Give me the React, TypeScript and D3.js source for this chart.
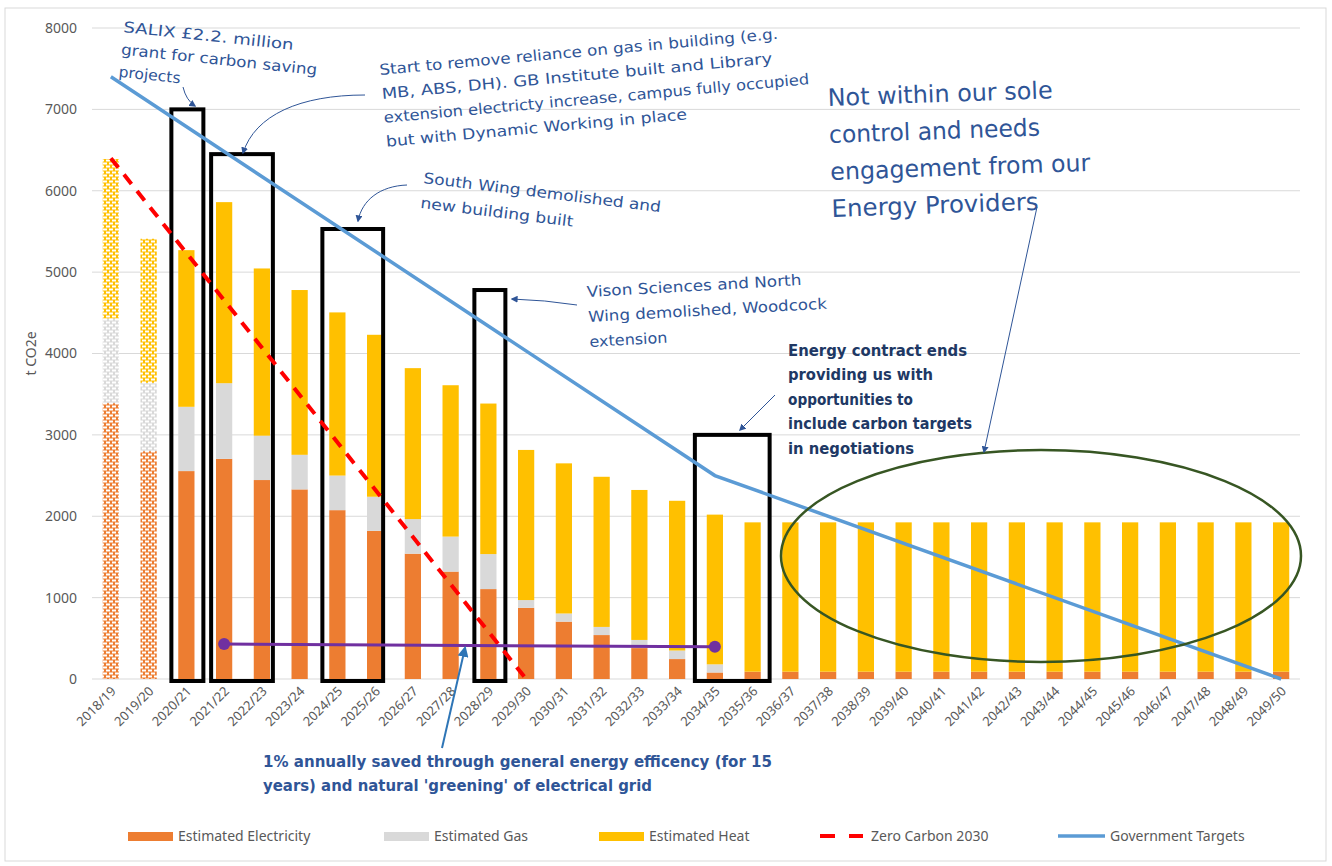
import React from "react";
import * as d3 from "d3";

const categories = [
  "2018/19", "2019/20", "2020/21", "2021/22", "2022/23", "2023/24", "2024/25", "2025/26",
  "2026/27", "2027/28", "2028/29", "2029/30", "2030/31", "2031/32", "2032/33", "2033/34",
  "2034/35", "2035/36", "2036/37", "2037/38", "2038/39", "2039/40", "2040/41", "2041/42",
  "2042/43", "2043/44", "2044/45", "2045/46", "2046/47", "2047/48", "2048/49", "2049/50",
];

// stacked segment values (t CO2e)
const electricity = [
  3390, 2800, 2555, 2705, 2445, 2330, 2075, 1820, 1540, 1320, 1105, 875, 705, 540, 380, 245,
  80, 90, 90, 90, 90, 90, 90, 90, 90, 90, 90, 90, 90, 90, 90, 90,
];
const gas = [
  1040, 840, 790, 930, 545, 425, 425, 420, 425, 430, 430, 95, 100, 100, 100, 105,
  100, 0, 0, 0, 0, 0, 0, 0, 0, 0, 0, 0, 0, 0, 0, 0,
];
const heat = [
  1960, 1770, 1925, 2225, 2055, 2025, 2005, 1990, 1855, 1860, 1850, 1845, 1845, 1845, 1843, 1840,
  1840, 1835, 1835, 1835, 1835, 1835, 1835, 1835, 1835, 1835, 1835, 1835, 1835, 1835, 1835, 1835,
];
// first two years are actuals (patterned bars)
const actualYears = ["2018/19", "2019/20"];

const zeroCarbon2030 = [
  { year: "2018/19", value: 6400 },
  { year: "2029/30", value: 0 },
];
const governmentTargets = [
  { year: "2018/19", value: 7400 },
  { year: "2034/35", value: 2500 },
  { year: "2049/50", value: 0 },
];
const efficiencySavings = [
  { year: "2021/22", value: 430 },
  { year: "2034/35", value: 395 },
];
const highlightBoxes = [
  { from: "2020/21", to: "2020/21", top: 7000 },
  { from: "2021/22", to: "2022/23", top: 6450 },
  { from: "2024/25", to: "2025/26", top: 5530 },
  { from: "2028/29", to: "2028/29", top: 4780 },
  { from: "2034/35", to: "2035/36", top: 3000 },
];
const yTicks = [0, 1000, 2000, 3000, 4000, 5000, 6000, 7000, 8000];

const seriesNames = ["Estimated Electricity", "Estimated Gas", "Estimated Heat"];
const colors = ["#ED7D31", "#D9D9D9", "#FFC000"];

const W = 1332;
const H = 866;
const plot = { left: 92, right: 1300, top: 28, bottom: 679 };

const x = d3
  .scaleBand<string>()
  .domain(categories)
  .range([plot.left, plot.right])
  .paddingInner(0.57)
  .paddingOuter(0.285);
const y = d3.scaleLinear().domain([0, 8000]).range([plot.bottom, plot.top]);
const cx = (c: string) => (x(c) as number) + x.bandwidth() / 2;

// hand-drawn boxes are not symmetric around the bars
const boxPads = [[15, 17], [13, 11], [15, 8], [14, 17], [20, 17]];

const HAND = "'DejaVu Sans', sans-serif";
const LABEL = "'Noto Sans', 'Open Sans', sans-serif";
const BLUE = "#2F5597";

type Line = { t: string; len: number };
function Note({
  tx, ty, rot, size, lines, gap, weight = 400, color = BLUE,
}: {
  tx: number; ty: number; rot: number; size: number; lines: Line[]; gap: number; weight?: number; color?: string;
}) {
  return (
    <g transform={`translate(${tx},${ty}) rotate(${rot})`}>
      {lines.map((l, i) => (
        <text
          key={i}
          x={0}
          y={i * gap}
          fontFamily={HAND}
          fontSize={size}
          fontWeight={weight}
          fill={color}
          textLength={l.len}
          lengthAdjust="spacingAndGlyphs"
        >
          {l.t}
        </text>
      ))}
    </g>
  );
}

export default function App() {
  const stack = d3
    .stack<number>()
    .keys(["0", "1", "2"])
    .value((i, k) => [electricity, gas, heat][+k][i]);
  const layers = stack(d3.range(categories.length));

  const lineGen = d3
    .line<{ year: string; value: number }>()
    .x((d) => cx(d.year))
    .y((d) => y(d.value));

  return (
    <div style={{ position: "absolute", left: 0, top: 0 }}>
      <svg width={W} height={H} style={{ display: "block", background: "#fff" }}>
        <defs>
          {colors.map((c, i) => (
            <pattern key={i} id={`pat${i}`} width={6} height={6} patternUnits="userSpaceOnUse">
              <rect width={6} height={6} fill={c} />
              <rect x={1} y={0.5} width={4} height={2} fill="#fff" />
              <rect x={-2} y={3.5} width={4} height={2} fill="#fff" />
              <rect x={4} y={3.5} width={4} height={2} fill="#fff" />
            </pattern>
          ))}
          <marker id="arr" viewBox="0 0 10 10" refX={8} refY={5} markerWidth={7} markerHeight={7} orient="auto-start-reverse" markerUnits="userSpaceOnUse">
            <path d="M0,0 L10,5 L0,10 z" fill={BLUE} />
          </marker>
          <marker id="arr2" viewBox="0 0 10 10" refX={8} refY={5} markerWidth={11} markerHeight={11} orient="auto" markerUnits="userSpaceOnUse">
            <path d="M0,0 L10,5 L0,10 z" fill="#2E75B6" />
          </marker>
        </defs>

        <rect x={5} y={8} width={1321} height={853} fill="none" stroke="#D9D9D9" />

        {/* gridlines */}
        {yTicks.map((t) => (
          <line key={t} x1={plot.left} x2={plot.right} y1={y(t)} y2={y(t)} stroke="#D9D9D9" strokeWidth={1} />
        ))}
        {yTicks.map((t) => (
          <text key={t} x={77} y={y(t)} dy="0.35em" textAnchor="end" fontFamily={LABEL} fontSize={14} fill="#595959">
            {t}
          </text>
        ))}
        <text transform={`translate(36,${y(4000)}) rotate(-90)`} textAnchor="middle" fontFamily={LABEL} fontSize={14} fill="#595959">
          t CO2e
        </text>

        {/* bars */}
        {layers.map((layer, li) =>
          layer.map((d, i) => {
            const cat = categories[i];
            const h = y(d[0]) - y(d[1]);
            if (h <= 0) return null;
            const fill = actualYears.includes(cat) ? `url(#pat${li})` : colors[li];
            return <rect key={`${li}-${i}`} x={x(cat)} y={y(d[1])} width={x.bandwidth()} height={h} fill={fill} />;
          })
        )}

        {/* x labels */}
        {categories.map((c) => (
          <text
            key={c}
            transform={`translate(${cx(c) + 6},${plot.bottom + 13}) rotate(-45)`}
            textAnchor="end"
            fontFamily={LABEL}
            fontSize={13}
            fill="#595959"
          >
            {c}
          </text>
        ))}

        {/* highlight boxes */}
        {highlightBoxes.map((b, i) => {
          const x0 = cx(b.from) - boxPads[i][0];
          const x1 = cx(b.to) + boxPads[i][1];
          return <rect key={i} x={x0} y={y(b.top)} width={x1 - x0} height={plot.bottom + 2 - y(b.top)} fill="none" stroke="#000" strokeWidth={4} />;
        })}

        {/* lines */}
        <path d={lineGen(governmentTargets) || ""} fill="none" stroke="#5B9BD5" strokeWidth={3.5} />
        <path d={lineGen(zeroCarbon2030) || ""} fill="none" stroke="#FF0000" strokeWidth={4} strokeDasharray="12,9" />
        <path d={lineGen(efficiencySavings) || ""} fill="none" stroke="#7030A0" strokeWidth={3} />
        {efficiencySavings.map((d) => (
          <circle key={d.year} cx={cx(d.year)} cy={y(d.value)} r={6} fill="#7030A0" />
        ))}

        {/* ellipse */}
        <ellipse cx={1041} cy={556} rx={260} ry={106} fill="none" stroke="#375623" strokeWidth={2.5} />

        {/* annotation arrows */}
        <path d="M183,87 Q186,100 195,106" fill="none" stroke={BLUE} strokeWidth={1} markerEnd="url(#arr)" />
        <path d="M365,95 C300,95 255,115 243,153" fill="none" stroke={BLUE} strokeWidth={1} markerEnd="url(#arr)" />
        <path d="M407,185 C380,186 362,200 358,221" fill="none" stroke={BLUE} strokeWidth={1} markerEnd="url(#arr)" />
        <path d="M577,305 Q545,300 512,299" fill="none" stroke={BLUE} strokeWidth={1} markerEnd="url(#arr)" />
        <path d="M775,395 L740,430" fill="none" stroke={BLUE} strokeWidth={1} markerEnd="url(#arr)" />
        <path d="M1037,207 L984,452" fill="none" stroke={BLUE} strokeWidth={1} markerEnd="url(#arr)" />
        <path d="M442,748 L465,648" fill="none" stroke="#2E75B6" strokeWidth={2} markerEnd="url(#arr2)" />

        {/* annotation texts */}
        <Note tx={123} ty={32} rot={6} size={15} gap={22.5} lines={[
          { t: "SALIX £2.2. million", len: 171 },
          { t: "grant for carbon saving", len: 197 },
          { t: "projects", len: 62 },
        ]} />
        <Note tx={380} ty={75} rot={-5.2} size={15} gap={24} lines={[
          { t: "Start to remove reliance on gas in building (e.g.", len: 400 },
          { t: "MB, ABS, DH). GB Institute built and Library", len: 392 },
          { t: "extension electricty increase, campus fully occupied", len: 427 },
          { t: "but with Dynamic Working in place", len: 302 },
        ]} />
        <Note tx={423} ty={183} rot={7} size={15} gap={25} lines={[
          { t: "South Wing demolished and", len: 239 },
          { t: "new building built", len: 154 },
        ]} />
        <Note tx={587} ty={297} rot={-3.2} size={15} gap={25} lines={[
          { t: "Vison Sciences and North", len: 215 },
          { t: "Wing demolished, Woodcock", len: 239 },
          { t: "extension", len: 78 },
        ]} />
        <Note tx={788} ty={356} rot={0} size={15} gap={24.4} weight={700} color="#203864" lines={[
          { t: "Energy contract ends", len: 179 },
          { t: "providing us with", len: 145 },
          { t: "opportunities to", len: 125 },
          { t: "include carbon targets", len: 184 },
          { t: "in negotiations", len: 126 },
        ]} />
        <Note tx={828} ty={106} rot={-2} size={24} gap={37} lines={[
          { t: "Not within our sole", len: 225 },
          { t: "control and needs", len: 211 },
          { t: "engagement from our", len: 260 },
          { t: "Energy Providers", len: 207 },
        ]} />
        <Note tx={263} ty={767} rot={0} size={15} gap={24} weight={700} lines={[
          { t: "1% annually saved through general energy efficency (for 15", len: 509 },
          { t: "years) and natural 'greening' of electrical grid", len: 389 },
        ]} />

        {/* legend */}
        {seriesNames.map((n, i) => {
          const lx = [128, 384, 599][i];
          return (
            <g key={n}>
              <rect x={lx} y={832} width={45} height={9} fill={colors[i]} />
              <text x={lx + 50} y={836} dy="0.35em" fontFamily={LABEL} fontSize={14} fill="#595959">{n}</text>
            </g>
          );
        })}
        <line x1={820} x2={835} y1={836} y2={836} stroke="#FF0000" strokeWidth={4} />
        <line x1={849} x2={863} y1={836} y2={836} stroke="#FF0000" strokeWidth={4} />
        <text x={871} y={836} dy="0.35em" fontFamily={LABEL} fontSize={14} fill="#595959">Zero Carbon 2030</text>
        <line x1={1058} x2={1105} y1={836} y2={836} stroke="#5B9BD5" strokeWidth={3.5} />
        <text x={1110} y={836} dy="0.35em" fontFamily={LABEL} fontSize={14} fill="#595959">Government Targets</text>
      </svg>
    </div>
  );
}
